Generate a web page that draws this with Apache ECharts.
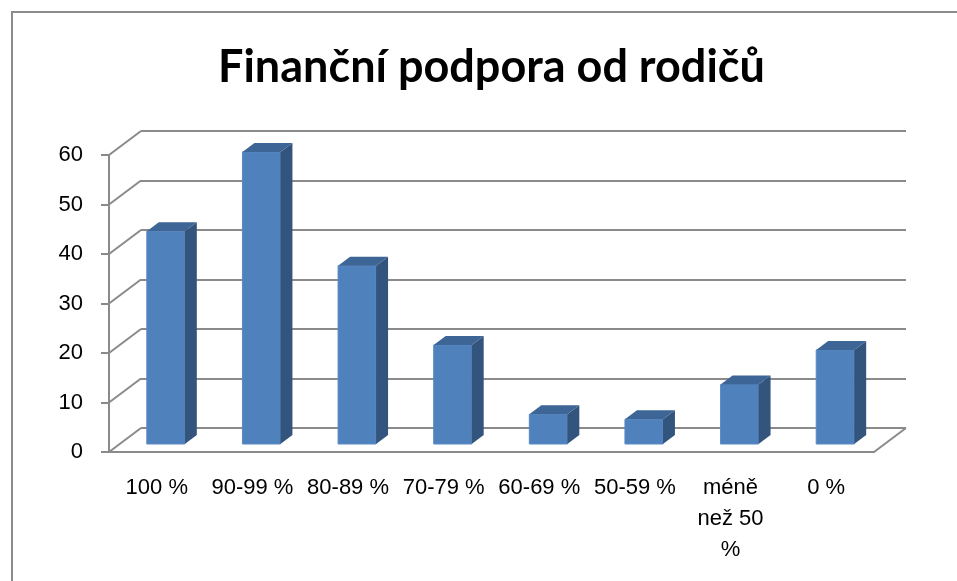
<!DOCTYPE html>
<html>
<head>
<meta charset="utf-8">
<script src="https://cdn.jsdelivr.net/npm/echarts@6/dist/echarts.min.js"></script>
<style>
  html, body { margin: 0; padding: 0; background: #fff; }
  #chart { width: 957px; height: 581px; }
</style>
</head>
<body>
<div id="chart"></div>
<script>
  // data
  var categories = ['100 %', '90-99 %', '80-89 %', '70-79 %', '60-69 %', '50-59 %', 'méně než 50 %', '0 %']
  var counts = [43, 59, 36, 20, 6, 5, 12, 19]
  var yTicks = [0, 10, 20, 30, 40, 50, 60]

  // 3d look
  var WALL_DX = 32
  var WALL_DY = -24
  var BAR_W = 38
  var BAR_SHIFT_X = 9
  var BAR_SHIFT_Y = -8
  var BAR_DX = 12
  var BAR_DY = -9
  var GRID_COLOR = '#8a8a8a'
  var FONT = 'Liberation Sans'

  var chart = echarts.init(document.getElementById('chart'))

  function renderBar(params, api) {
    var base = api.coord([api.value(0), 0])
    var top = api.coord([api.value(0), api.value(1)])
    var x = base[0] - BAR_W / 2 + BAR_SHIFT_X
    var y0 = base[1] + BAR_SHIFT_Y
    var y1 = top[1] + BAR_SHIFT_Y
    var xr = x + BAR_W
    return {
      type: 'group',
      children: [
        {
          type: 'rect',
          shape: { x: x, y: y1, width: BAR_W, height: y0 - y1 },
          style: { fill: '#4f81bd', stroke: '#5a8ac4', lineWidth: 1 }
        },
        {
          type: 'polygon',
          shape: { points: [[xr, y1], [xr + BAR_DX, y1 + BAR_DY], [xr + BAR_DX, y0 + BAR_DY], [xr, y0]] },
          style: { fill: '#33547d' }
        },
        {
          type: 'polygon',
          shape: { points: [[x, y1], [x + BAR_DX, y1 + BAR_DY], [xr + BAR_DX, y1 + BAR_DY], [xr, y1]] },
          style: { fill: '#3d6595' }
        }
      ]
    }
  }

  function renderWall(params, api) {
    var cs = params.coordSys
    var y = api.coord([0, api.value(1)])[1]
    var lines = [{
      type: 'line',
      shape: { x1: cs.x, y1: y, x2: cs.x + WALL_DX, y2: y + WALL_DY },
      style: { stroke: GRID_COLOR, lineWidth: 2 }
    }]
    if (api.value(1) === 0) {
      // pravá hrana podlahy
      lines.push({
        type: 'line',
        shape: { x1: cs.x + cs.width, y1: y, x2: cs.x + cs.width + WALL_DX, y2: y + WALL_DY },
        style: { stroke: GRID_COLOR, lineWidth: 2 }
      })
    }
    return { type: 'group', children: lines }
  }

  chart.setOption({
    animation: false,
    title: {
      text: 'Finanční podpora od rodičů',
      left: 213,
      top: 40,
      textStyle: { fontFamily: 'Lato', fontSize: 45, fontWeight: 'bold', color: '#000' }
    },
    graphic: [{
      type: 'rect',
      shape: { x: 12, y: 12, width: 1000, height: 1000 },
      style: { fill: 'none', stroke: '#8c8c8c', lineWidth: 2 },
      silent: true
    }],
    grid: [
      { left: 109, top: 155, width: 765, height: 297 },
      { left: 109 + WALL_DX, top: 155 + WALL_DY, width: 765, height: 297 }
    ],
    xAxis: [
      {
        type: 'category',
        gridIndex: 0,
        data: categories,
        axisLine: { lineStyle: { color: GRID_COLOR, width: 2 } },
        axisTick: { length: 8, lineStyle: { color: GRID_COLOR, width: 2 } },
        axisLabel: {
          margin: 20,
          color: '#000',
          fontFamily: FONT,
          fontSize: 22,
          lineHeight: 31,
          interval: 0,
          formatter: function(v) {
            return v === 'méně než 50 %' ? 'méně\nnež 50\n%' : v
          }
        }
      },
      {
        type: 'category',
        gridIndex: 1,
        data: categories,
        show: false
      }
    ],
    yAxis: [
      {
        type: 'value',
        gridIndex: 0,
        min: 0,
        max: 60,
        interval: 10,
        axisLine: { show: true, lineStyle: { color: GRID_COLOR, width: 2 } },
        axisTick: { show: true, length: 8, lineStyle: { color: GRID_COLOR, width: 2 } },
        splitLine: { show: false },
        axisLabel: { margin: 26, color: '#000', fontFamily: FONT, fontSize: 22 }
      },
      {
        type: 'value',
        gridIndex: 1,
        min: 0,
        max: 60,
        interval: 10,
        axisLine: { show: false },
        axisTick: { show: false },
        axisLabel: { show: false },
        splitLine: { show: true, lineStyle: { color: GRID_COLOR, width: 2 } }
      }
    ],
    series: [
      {
        type: 'custom',
        xAxisIndex: 0,
        yAxisIndex: 0,
        renderItem: renderWall,
        data: yTicks.map(function(v) { return [0, v] }),
        silent: true,
        z: 1
      },
      {
        type: 'custom',
        name: 'Počet',
        xAxisIndex: 0,
        yAxisIndex: 0,
        renderItem: renderBar,
        data: counts.map(function(v, i) { return [i, v] }),
        z: 3
      }
    ]
  })
</script>
</body>
</html>
